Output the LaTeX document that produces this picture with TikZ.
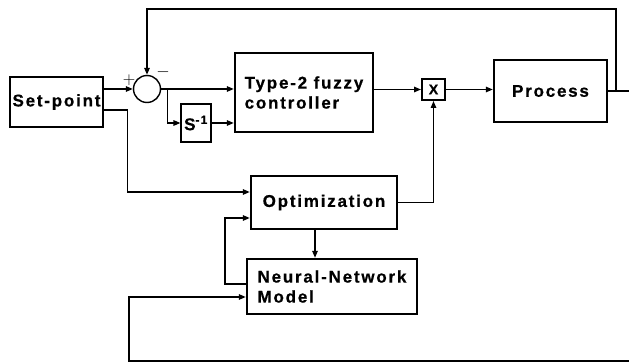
\documentclass[tikz,border=0pt]{standalone}
\usepackage{fontspec}
\setmainfont{Liberation Sans}[LetterSpace=10.5,BoldFeatures={FakeBold=0.6}]
\usetikzlibrary{arrows.meta}

\begin{document}
\begin{tikzpicture}[x=1pt,y=-1pt,
  blk/.style={draw,line width=2.4pt,inner sep=0pt,align=left,
    font=\bfseries\fontsize{17}{20}\selectfont},
  wire/.style={line width=1.4pt},
  lnk/.style={wire,-{Triangle[length=7pt,width=5.5pt]}},
  sgn/.style={inner sep=0pt,font=\fontsize{17}{17}\selectfont}]
  \useasboundingbox (0,0) rectangle (629,363);

  % blocks
  \node[blk,minimum width=93pt,minimum height=50pt] (setpt) at (56.5,102) {Set-point};
  \node[draw,circle,line width=1.4pt,minimum size=27pt,inner sep=0pt] (sum) at (147,89) {};
  \node[sgn] (plus) at (129,80) {$+$};
  \node[sgn] (minus) at (163,72) {$-$};
  \node[blk,minimum width=138pt,minimum height=79pt] (ctrl) at (304,92.5) {Type-2 fuzzy\\controller};
  \node[blk,line width=1.1pt,minimum width=30pt,minimum height=38pt] (integ) at (196,123) {S\textsuperscript{-1}};
  \node[blk,line width=2pt,minimum width=23pt,minimum height=21pt,
    font=\bfseries\fontsize{14}{14}\selectfont] (mult) at (433.5,89.5) {X};
  \node[blk,minimum width=113pt,minimum height=62pt] (proc) at (550.5,91) {Process};
  \node[blk,minimum width=146pt,minimum height=53pt] (opt) at (324,202.5) {Optimization};
  \node[blk,minimum width=170pt,minimum height=55pt] (nn) at (332,286.5) {Neural-Network\\Model};

  \coordinate (yout) at (629,91);
  \coordinate (top) at (616,9);
  \coordinate (fbin) at (629,361);

  % forward path
  \draw[lnk] (setpt.east |- sum) -- (sum.west);
  \draw[lnk] (sum.east) -- (sum.east -| ctrl.west);
  \draw[lnk] ([xshift=6pt]sum.east) |- (integ.west);
  \draw[lnk] (integ.east) -- (integ.east -| ctrl.west);
  \draw[lnk] (ctrl.east |- mult) -- (mult.west);
  \draw[lnk] (mult.east) -- (mult.east -| proc.west);
  \draw[wire] (proc.east |- yout) -- (yout);
  \draw[lnk] (proc.east -| top) -- (top) -| (sum.north);

  % optimization loop
  \draw[lnk] ([yshift=-8pt]setpt.east) -- ++(23,0) |- ([yshift=10.5pt]opt.west);
  \draw[lnk] (opt.east) -| (mult.south);
  \draw[lnk] ([xshift=-9pt]opt.south) -- ([xshift=-9pt]opt.south |- nn.north);
  \draw[lnk] ([yshift=2.5pt]nn.west) -- ++(-21,0) |- ([yshift=-15.5pt]opt.west);
  \draw[lnk] (fbin) -- ++(-500,0) |- ([yshift=-10.5pt]nn.west);
\end{tikzpicture}
\end{document}
